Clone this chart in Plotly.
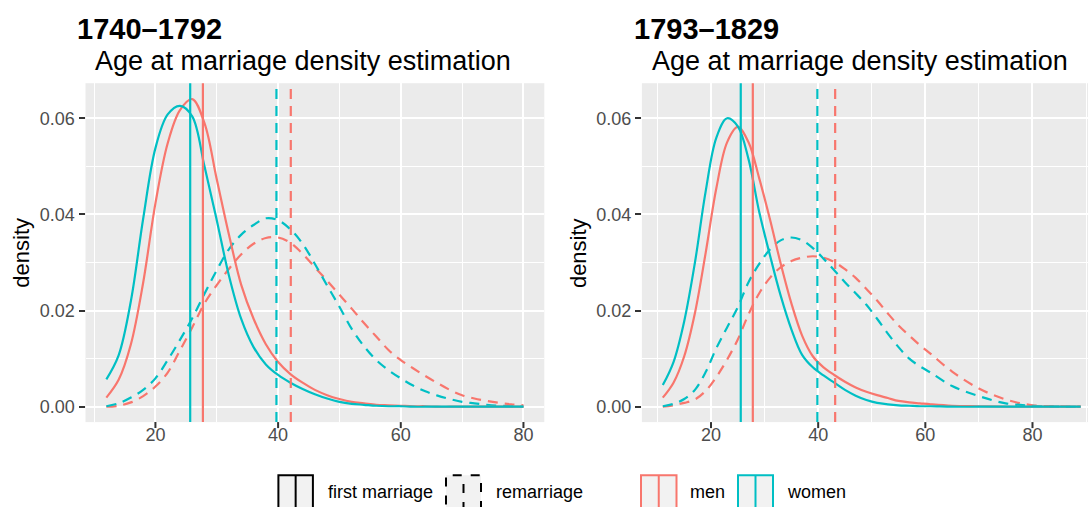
import plotly.graph_objects as go

W, H = 1088, 507

# ---------------- data: panel 1 (1740–1792) ----------------
p1_titles = ["1740–1792", "Age at marriage density estimation"]
p1_age = [12, 14, 16, 18, 20, 22, 24, 26, 28, 30, 32, 34, 36, 38, 40, 42, 44, 46, 48, 50,
          52, 54, 56, 58, 60, 62, 64, 66, 68, 70, 72, 74, 76, 78, 80]
p1_women_first = [0.0057, 0.0107, 0.0220, 0.0391, 0.0538, 0.0608, 0.0626, 0.0604, 0.0500, 0.0388,
                  0.0272, 0.0182, 0.0124, 0.0088, 0.0066, 0.0050, 0.0037, 0.0026, 0.0017, 0.0010,
                  0.0006, 0.0004, 0.0002, 0.0001, 0.0001, 0.0, 0.0, 0.0, 0.0, 0.0,
                  0.0, 0.0, 0.0, 0.0, 0.0]
p1_men_first = [0.0019, 0.0056, 0.0130, 0.0258, 0.0423, 0.0548, 0.0617, 0.0640, 0.0590, 0.0473,
                0.0357, 0.0253, 0.0183, 0.0130, 0.0093, 0.0068, 0.0050, 0.0035, 0.0024, 0.0016,
                0.0010, 0.0007, 0.0004, 0.0003, 0.0002, 0.0001, 0.0001, 0.0, 0.0, 0.0,
                0.0, 0.0, 0.0, 0.0, 0.0]
p1_women_re = [0.0001, 0.0007, 0.0019, 0.0035, 0.0059, 0.0097, 0.0139, 0.0184, 0.0235, 0.0284,
               0.0328, 0.0358, 0.0378, 0.0392, 0.0388, 0.0369, 0.0339, 0.0297, 0.0252, 0.0208,
               0.0162, 0.0126, 0.0097, 0.0076, 0.0059, 0.0044, 0.0032, 0.0023, 0.0016, 0.0010,
               0.0007, 0.0004, 0.0002, 0.0001, 0.0]
p1_men_re = [0.0, 0.0002, 0.0009, 0.0022, 0.0042, 0.0071, 0.0117, 0.0165, 0.0215, 0.0253,
             0.0287, 0.0317, 0.0339, 0.0351, 0.0352, 0.0341, 0.0318, 0.0290, 0.0262, 0.0233,
             0.0204, 0.0174, 0.0146, 0.0118, 0.0097, 0.0080, 0.0064, 0.0049, 0.0035, 0.0024,
             0.0017, 0.0012, 0.0008, 0.0005, 0.0003]
p1_vlines = {"women_first": 25.67, "men_first": 27.74, "women_re": 39.73, "men_re": 42.07}

# ---------------- data: panel 2 (1793–1829) ----------------
p2_titles = ["1793–1829", "Age at marriage density estimation"]
p2_age = [11, 13, 15, 17, 19, 21, 23, 25, 27, 29, 31, 33, 35, 37, 39, 41, 43, 45, 47, 49,
          51, 53, 55, 57, 59, 61, 65, 70, 75, 80, 85, 89]
p2_women_first = [0.0045, 0.0093, 0.0178, 0.0300, 0.0448, 0.0560, 0.0600, 0.0583, 0.0515, 0.0405,
                  0.0315, 0.0231, 0.0161, 0.0108, 0.0082, 0.0065, 0.0050, 0.0035, 0.0023, 0.0014,
                  0.0008, 0.0005, 0.0003, 0.0002, 0.0001, 0.0001, 0.0, 0.0, 0.0, 0.0, 0.0, 0.0]
p2_men_first = [0.0019, 0.0050, 0.0105, 0.0195, 0.0320, 0.0455, 0.0550, 0.0582, 0.0550, 0.0475,
                0.0390, 0.0298, 0.0215, 0.0148, 0.0105, 0.0082, 0.0066, 0.0052, 0.0040, 0.0031,
                0.0024, 0.0018, 0.0012, 0.0009, 0.0007, 0.0005, 0.0002, 0.0001, 0.0, 0.0, 0.0, 0.0]
p2_women_re = [0.0001, 0.0006, 0.0016, 0.0035, 0.0072, 0.0122, 0.0165, 0.0207, 0.0259, 0.0297,
               0.0327, 0.0346, 0.0352, 0.0346, 0.0330, 0.0308, 0.0284, 0.0259, 0.0236, 0.0212,
               0.0183, 0.0152, 0.0124, 0.0100, 0.0084, 0.0071, 0.0043, 0.0022, 0.0007, 0.0002,
               0.0, 0.0]
p2_men_re = [0.0, 0.0003, 0.0008, 0.0015, 0.0033, 0.0062, 0.0098, 0.0140, 0.0192, 0.0236,
             0.0268, 0.0290, 0.0303, 0.0310, 0.0313, 0.0310, 0.0301, 0.0286, 0.0268, 0.0245,
             0.0221, 0.0194, 0.0169, 0.0148, 0.0128, 0.0110, 0.0073, 0.0038, 0.0015, 0.0003,
             0.0001, 0.0]
p2_vlines = {"women_first": 25.55, "men_first": 27.8, "women_re": 39.85, "men_re": 43.17}

x_ticks = [20, 40, 60, 80]
legend_linetype = ["first marriage", "remarriage"]
legend_colour = ["men", "women"]
y_label = "density"

MEN = "#F8766D"
WOMEN = "#00BFC4"
FONT = "Liberation Sans, Arial, sans-serif"
LW = 2.2
DASH = "10px,7px"

PANEL_TOP, PANEL_BOT = 83.2, 422.1
TICK_LEN = 6

def xf(px):
    return px / W

def yf(py):
    return (H - py) / H

fig = go.Figure()

panels = [
    ("x", "y", p1_age, p1_men_first, p1_women_first, p1_men_re, p1_women_re, p1_vlines),
    ("x2", "y2", p2_age, p2_men_first, p2_women_first, p2_men_re, p2_women_re, p2_vlines),
]

shapes = []
for (xa, ya, age, mf, wf, mr, wr, vl) in panels:
    for ys, col, dash in [(mr, MEN, DASH), (wr, WOMEN, DASH), (mf, MEN, "solid"), (wf, WOMEN, "solid")]:
        fig.add_trace(go.Scatter(x=age, y=ys, xaxis=xa, yaxis=ya, mode="lines",
                                 line=dict(color=col, width=LW, dash=dash, shape="spline", smoothing=1.0),
                                 showlegend=False, hoverinfo="skip"))
    for key, col, dash in [("men_first", MEN, "solid"), ("women_first", WOMEN, "solid"),
                           ("men_re", MEN, DASH), ("women_re", WOMEN, DASH)]:
        shapes.append(dict(type="line", xref=xa, yref=ya + " domain", x0=vl[key], x1=vl[key],
                           y0=0, y1=1, line=dict(color=col, width=LW, dash=dash)))
    # x tick marks (ggplot style, outside the panel)
    for t in x_ticks:
        shapes.append(dict(type="line", xref=xa, yref=ya + " domain", x0=t, x1=t,
                           y0=0, y1=-TICK_LEN / (PANEL_BOT - PANEL_TOP),
                           line=dict(color="#333333", width=2)))

# legend (drawn manually, ggplot style)
key_top, key_bot = 475.3, 511
leg_items = [
    (278.4, 312.9, "black", "solid", legend_linetype[0], 326),
    (446.0, 481.0, "black", "dash", legend_linetype[1], 494),
    (641.0, 676.5, MEN, "solid", legend_colour[0], 688),
    (738.0, 773.0, WOMEN, "solid", legend_colour[1], 785),
]
annotations = []
for x0, x1, col, dash, label, tx in leg_items:
    shapes.append(dict(type="rect", xref="paper", yref="paper", x0=xf(x0), x1=xf(x1),
                       y0=yf(key_bot), y1=yf(key_top), fillcolor="#F2F2F2",
                       line=dict(color=col, width=2, dash=dash)))
    xm = (x0 + x1) / 2
    shapes.append(dict(type="line", xref="paper", yref="paper", x0=xf(xm), x1=xf(xm),
                       y0=yf(key_bot), y1=yf(key_top), line=dict(color=col, width=2, dash=dash)))
    annotations.append(dict(text=label, x=xf(tx), y=yf(492), xref="paper", yref="paper",
                            xanchor="left", yanchor="middle", showarrow=False,
                            font=dict(family=FONT, size=18, color="black")))

# titles
for tx, sx, titles in [(75, 93, p1_titles), (632, 650, p2_titles)]:
    annotations.append(dict(text="<b>%s</b>" % titles[0], x=xf(tx), y=yf(29.5), xref="paper", yref="paper",
                            xanchor="left", yanchor="middle", showarrow=False,
                            font=dict(family=FONT, size=29, color="black")))
    annotations.append(dict(text=titles[1], x=xf(sx), y=yf(61), xref="paper", yref="paper",
                            xanchor="left", yanchor="middle", showarrow=False,
                            font=dict(family=FONT, size=27, color="black")))

# y axis titles
for cx in [22, 578.4]:
    annotations.append(dict(text=y_label, x=xf(cx), y=yf(252.7), xref="paper", yref="paper",
                            xanchor="center", yanchor="middle", showarrow=False, textangle=-90,
                            font=dict(family=FONT, size=22, color="black")))

ydom = [yf(PANEL_BOT), yf(PANEL_TOP)]
common_x = dict(ticks="", tickfont=dict(family=FONT, size=18, color="#4D4D4D"),
                tickvals=x_ticks,
                showline=False, zeroline=False, gridcolor="white", gridwidth=2,
                minor=dict(tick0=0, dtick=10, showgrid=True, gridcolor="white", gridwidth=1))
common_y = dict(ticks="outside", ticklen=TICK_LEN, tickwidth=2, tickcolor="#333333",
                tickfont=dict(family=FONT, size=18, color="#4D4D4D"),
                showline=False, zeroline=False, gridcolor="white", gridwidth=2,
                tick0=0, dtick=0.02, tickformat=".2f", range=[-0.0032, 0.0673],
                minor=dict(tick0=0, dtick=0.01, showgrid=True, gridcolor="white", gridwidth=1))

fig.update_layout(
    width=W, height=H,
    margin=dict(l=0, r=0, t=0, b=0),
    paper_bgcolor="white", plot_bgcolor="#EBEBEB",
    font=dict(family=FONT),
    xaxis=dict(domain=[xf(85.5), xf(544.3)], range=[8.6, 83.4], anchor="y", **common_x),
    yaxis=dict(domain=ydom, anchor="x", **common_y),
    xaxis2=dict(domain=[xf(641.9), 1.0], range=[7.1, 90.36], anchor="y2", **common_x),
    yaxis2=dict(domain=ydom, anchor="x2", **common_y),
    shapes=shapes,
    annotations=annotations,
)

fig.write_html("out.html")
